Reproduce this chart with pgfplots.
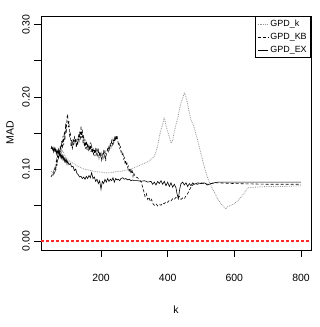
\documentclass[border=0pt]{standalone}
\usepackage{fontspec}
\setmainfont{Liberation Sans}
\usepackage{pgfplots}
\pgfplotsset{compat=1.18}
\definecolor{zeroline}{RGB}{255,40,40}
\definecolor{kgray}{RGB}{150,150,150}

\begin{document}
\begin{tikzpicture}
\path[use as bounding box] (-41bp,-77bp) rectangle (279bp,250bp);
\begin{axis}[
    width=270bp, height=234bp, scale only axis,
    xmin=20, xmax=830, ymin=-0.012, ymax=0.312,
    xtick={200,400,600,800},
    ytick={0,0.05,0.10,0.15,0.20,0.25,0.30},
    yticklabels={0.00,,0.10,,0.20,,0.30},
    xtick pos=left, ytick pos=left,
    tick align=outside, major tick length=7bp,
    axis line style={line width=0.7pt},
    every tick/.style={black, line width=0.6pt},
    /pgf/number format/assume math mode=true,
    font=\fontsize{10.5}{12}\selectfont,
    every x tick label/.style={anchor=center, yshift=-21bp},
    every y tick label/.style={anchor=center, xshift=-8bp, rotate=90},
    xlabel={k}, ylabel={MAD},
    every axis x label/.style={at={(axis description cs:0.5,-0.256)}, anchor=center},
    every axis y label/.style={at={(axis description cs:-0.115,0.5)}, rotate=90, anchor=center},
    legend style={at={(1,1)}, anchor=north east, draw=black, line width=0.6pt,
        font=\fontsize{9}{9}\selectfont, inner sep=2pt, row sep=1pt,
        legend cell align=left},
    legend image code/.code={\draw[#1] (0cm,0cm) -- (0.36cm,0cm);},
]
% reference line at zero
\addplot[zeroline, line width=2pt, dash pattern=on 3bp off 2bp, forget plot] coordinates {(20,0) (830,0)};
% GPD_k
\addplot[draw=kgray, line width=0.8pt, dash pattern=on 0.8pt off 1pt] coordinates {
(50,0.097) (55,0.095) (60,0.100) (65,0.098) (70,0.112) (75,0.118) (80,0.122) (85,0.125)
(90,0.120) (95,0.116) (100,0.113) (110,0.110) (120,0.107) (130,0.104) (140,0.102)
(150,0.100) (160,0.099) (170,0.098) (180,0.097) (190,0.096) (200,0.096) (210,0.095)
(220,0.095) (230,0.095) (240,0.096) (250,0.097) (260,0.097) (270,0.098) (280,0.099)
(290,0.100) (300,0.102) (310,0.104) (320,0.106) (330,0.108) (340,0.110) (350,0.113)
(360,0.118) (365,0.124) (370,0.132) (375,0.145) (380,0.155) (385,0.162) (390,0.172)
(395,0.160) (400,0.152) (405,0.145) (410,0.136) (415,0.140) (420,0.152) (425,0.162)
(430,0.170) (435,0.182) (440,0.192) (445,0.198) (450,0.206) (455,0.200) (460,0.190)
(465,0.178) (470,0.168) (475,0.163) (480,0.157) (485,0.148) (490,0.140) (495,0.130)
(500,0.121) (505,0.112) (510,0.103) (515,0.095) (520,0.088) (525,0.082) (530,0.077)
(540,0.068) (550,0.059) (560,0.052) (570,0.047) (575,0.045) (580,0.048) (590,0.050)
(600,0.052) (610,0.056) (620,0.061) (630,0.067) (640,0.074) (660,0.075) (700,0.076)
(750,0.076) (800,0.077)
};
\addlegendentry{GPD\_k}
% GPD_KB
\addplot[draw=black, line width=0.6pt, dash pattern=on 3bp off 2bp] coordinates {
(50,0.089) (53,0.092) (56,0.090) (58,0.098) (60,0.095) (62,0.104) (64,0.099) (66,0.112)
(68,0.105) (70,0.121) (72,0.113) (74,0.128) (76,0.118) (78,0.133) (80,0.124) (82,0.139)
(84,0.128) (86,0.146) (88,0.133) (90,0.152) (92,0.140) (94,0.163) (96,0.150) (98,0.172)
(100,0.176) (102,0.158) (104,0.166) (106,0.144) (108,0.152) (110,0.131) (112,0.140)
(114,0.127) (116,0.141) (118,0.133) (120,0.146) (122,0.135) (124,0.143) (126,0.130)
(128,0.139) (130,0.133) (132,0.148) (134,0.136) (136,0.152) (138,0.140) (140,0.160)
(142,0.143) (144,0.155) (146,0.135) (148,0.147) (150,0.131) (152,0.141) (154,0.128)
(156,0.139) (158,0.127) (160,0.136) (162,0.125) (164,0.133) (166,0.126) (168,0.137)
(170,0.124) (172,0.132) (174,0.122) (176,0.130) (178,0.119) (180,0.128) (182,0.118)
(184,0.127) (186,0.121) (188,0.130) (190,0.120) (192,0.126) (194,0.116) (196,0.124)
(198,0.118) (200,0.122) (202,0.113) (204,0.120) (206,0.115) (208,0.124) (210,0.118)
(212,0.127) (214,0.111) (216,0.121) (218,0.124) (220,0.130) (222,0.125) (224,0.133)
(226,0.128) (228,0.136) (230,0.131) (232,0.139) (234,0.134) (236,0.141) (238,0.136)
(240,0.143) (242,0.138) (244,0.146) (246,0.140) (248,0.147) (250,0.140) (252,0.135)
(254,0.137) (256,0.129) (258,0.131) (260,0.124) (262,0.126) (264,0.119) (266,0.121)
(268,0.114) (270,0.116) (272,0.109) (274,0.112) (276,0.105) (278,0.108) (280,0.102)
(282,0.104) (284,0.098) (286,0.101) (288,0.096) (290,0.099) (292,0.094) (294,0.097)
(296,0.090) (298,0.095) (300,0.092) (305,0.089) (310,0.088) (315,0.085) (320,0.083)
(325,0.075) (328,0.070) (332,0.062) (336,0.066) (340,0.058) (344,0.061) (348,0.055)
(352,0.058) (356,0.052) (360,0.050) (365,0.052) (370,0.049) (375,0.051) (380,0.050)
(385,0.053) (390,0.052) (395,0.055) (400,0.054) (405,0.057) (410,0.056) (415,0.059)
(420,0.058) (425,0.061) (430,0.059) (435,0.062) (440,0.058) (445,0.060) (450,0.059)
(455,0.063) (460,0.066) (465,0.071) (470,0.075) (475,0.078) (480,0.080) (490,0.079)
(500,0.081) (510,0.080) (520,0.079) (530,0.080) (540,0.081) (550,0.081) (600,0.080)
(700,0.079) (800,0.079)
};
\addlegendentry{GPD\_KB}
% GPD_EX
\addplot[draw=black, line width=0.6pt] coordinates {
(50,0.128) (52,0.131) (54,0.127) (56,0.130) (58,0.124) (60,0.129) (62,0.125) (64,0.128)
(66,0.121) (68,0.126) (70,0.122) (72,0.127) (74,0.119) (76,0.124) (78,0.117) (80,0.121)
(82,0.115) (84,0.119) (86,0.113) (88,0.117) (90,0.111) (92,0.115) (94,0.110) (96,0.113)
(98,0.107) (100,0.111) (104,0.106) (108,0.108) (112,0.103) (116,0.104) (120,0.098)
(124,0.100) (128,0.094) (132,0.092) (136,0.089) (140,0.090) (144,0.087) (148,0.089)
(152,0.086) (156,0.090) (160,0.087) (164,0.091) (168,0.088) (172,0.095) (176,0.087)
(180,0.089) (184,0.083) (188,0.086) (192,0.080) (196,0.084) (200,0.072) (202,0.078)
(204,0.083) (208,0.080) (212,0.086) (216,0.082) (220,0.087) (224,0.083) (228,0.086)
(232,0.084) (236,0.088) (240,0.082) (244,0.087) (248,0.085) (252,0.086) (256,0.084)
(260,0.087) (265,0.088) (270,0.086) (275,0.087) (280,0.085) (285,0.086) (290,0.084)
(295,0.085) (300,0.084) (310,0.084) (320,0.083) (330,0.084) (340,0.082) (350,0.083)
(355,0.079) (360,0.082) (365,0.078) (370,0.083) (375,0.080) (380,0.084) (385,0.079)
(390,0.083) (395,0.077) (400,0.082) (405,0.076) (410,0.081) (415,0.075) (420,0.079)
(425,0.074) (428,0.066) (432,0.059) (436,0.072) (440,0.080) (445,0.082) (450,0.078)
(455,0.081) (460,0.076) (465,0.080) (470,0.077) (475,0.081) (480,0.079) (490,0.081)
(500,0.080) (510,0.081) (520,0.078) (530,0.080) (540,0.081) (550,0.082) (600,0.082)
(700,0.082) (800,0.082)
};
\addlegendentry{GPD\_EX}
\end{axis}
\end{tikzpicture}
\end{document}
